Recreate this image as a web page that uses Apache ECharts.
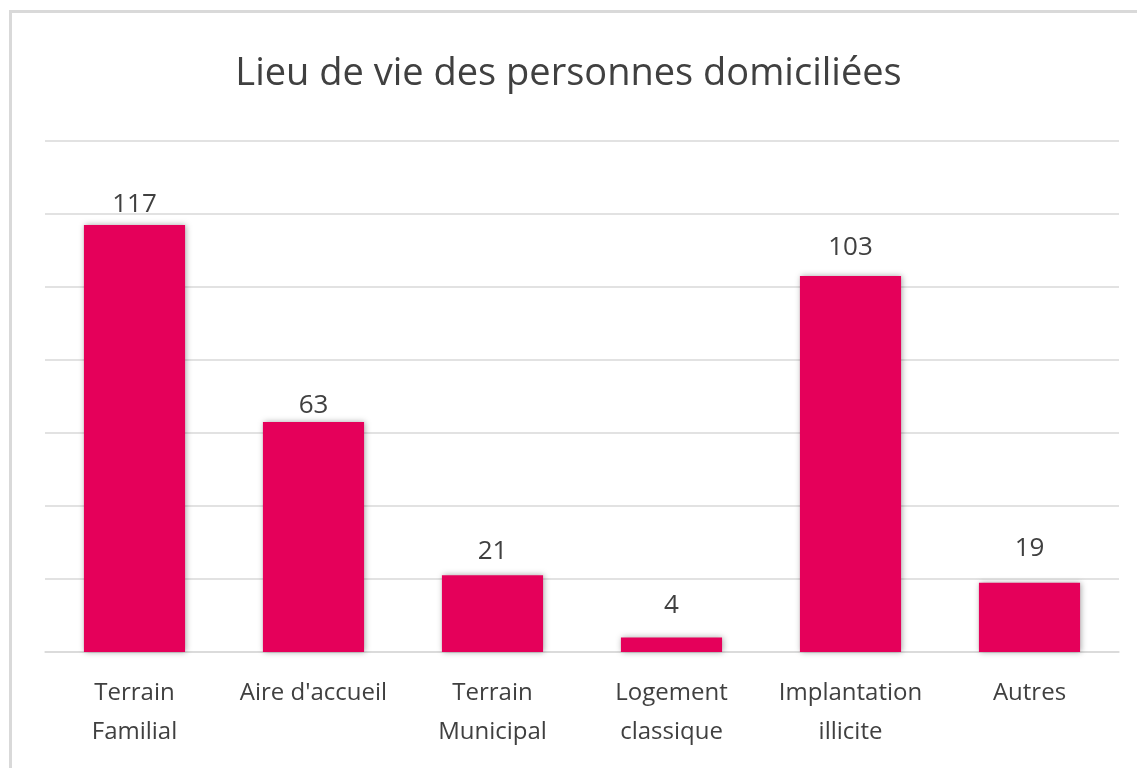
<!DOCTYPE html>
<html>
<head>
<meta charset="utf-8">
<script src="https://cdn.jsdelivr.net/npm/echarts@6/dist/echarts.min.js"></script>
<style>
html,body{margin:0;padding:0;background:#fff;}
#frame{position:absolute;left:9px;top:10px;width:1140px;height:770px;border:3px solid #d9d9d9;box-sizing:border-box;}
#chart{position:absolute;left:0;top:0;width:1137px;height:768px;}
</style>
</head>
<body>
<div id="frame"></div>
<div id="chart"></div>
<script>
const categories = ["Terrain\nFamilial", "Aire d'accueil", "Terrain\nMunicipal", "Logement\nclassique", "Implantation\nillicite", "Autres"];
const values = [117, 63, 21, 4, 103, 19];
const titleText = "Lieu de vie des personnes domiciliées";

// per-bar label gaps (styling, as placed in the original)
const labelGaps = [7, 3, 11, 19, 15, 21];

const chart = echarts.init(document.getElementById('chart'));
chart.setOption({
  backgroundColor: 'transparent',
  animation: false,
  title: {
    text: titleText,
    left: 'center',
    top: 50,
    textStyle: {fontFamily: 'Open Sans', fontSize: 38, fontWeight: 'normal', color: '#404040'}
  },
  grid: {left: 45, right: 18, top: 141, bottom: 116},
  xAxis: {
    type: 'category',
    data: categories,
    axisLine: {lineStyle: {color: '#d9d9d9', width: 1.5}},
    axisTick: {show: false},
    axisLabel: {fontFamily: 'Open Sans', fontSize: 24, color: '#404040', margin: 22, lineHeight: 39, interval: 0}
  },
  yAxis: {
    type: 'value',
    min: 0, max: 140, interval: 20,
    axisLabel: {show: false},
    axisLine: {show: false},
    axisTick: {show: false},
    splitLine: {lineStyle: {color: '#d9d9d9', width: 1.5}}
  },
  series: [{
    type: 'bar',
    data: values.map((v, i) => ({value: v, label: {distance: labelGaps[i]}})),
    barWidth: '56.5%',
    itemStyle: {color: '#E5005A', shadowColor: 'rgba(0,0,0,0.35)', shadowBlur: 6, shadowOffsetX: 1, shadowOffsetY: 0},
    label: {show: true, position: 'top', fontFamily: 'Open Sans', fontSize: 26, color: '#404040'}
  }]
});
</script>
</body>
</html>
